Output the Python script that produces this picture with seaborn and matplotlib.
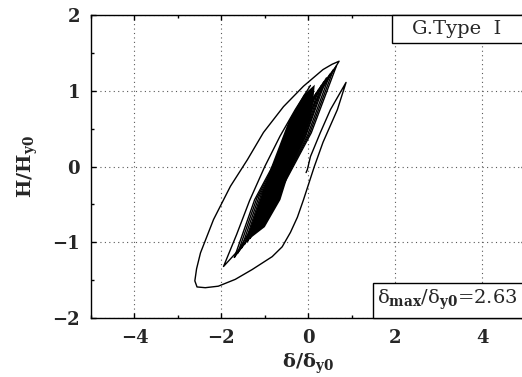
import numpy as np
import pandas as pd
import matplotlib
matplotlib.use("Agg")
import matplotlib.pyplot as plt
from matplotlib.patches import Rectangle
from matplotlib.ticker import MultipleLocator
import seaborn as sns

# ---- data ----
# large excursions: A -> B -> C -> D -> E -> end
outer_x = [0.05, -0.30, -0.65, -1.00, -1.35, -1.65, -1.95,
           -1.60, -1.10, -0.55, -0.05, 0.35, 0.71,
           0.55, 0.34, -0.11, -0.57, -1.03, -1.40, -1.79, -2.18, -2.48, -2.57, -2.61, -2.56,
           -2.37, -2.07, -1.68, -1.29, -0.83, -0.60, -0.41, -0.25, -0.11, 0.14, 0.34, 0.67, 0.87,
           0.51, 0.28, 0.05, -0.02, -0.05]
outer_y = [1.07, 0.75, 0.40, 0.00, -0.45, -0.90, -1.32,
           -1.10, -0.62, 0.02, 0.62, 1.05, 1.39,
           1.35, 1.28, 1.06, 0.79, 0.45, 0.09, -0.26, -0.70, -1.14, -1.35, -1.51, -1.59,
           -1.60, -1.58, -1.49, -1.36, -1.19, -1.06, -0.87, -0.67, -0.44, 0.00, 0.32, 0.75, 1.11,
           0.75, 0.45, 0.13, -0.04, -0.08]

# inner (dense) loops
loop1_x = [-1.05, -0.82, -0.44, 0.05, -0.24, -0.62, -1.05]
loop1_y = [-0.60, -0.18, 0.31, 0.80, 0.31, -0.18, -0.60]
loop2_x = [-1.15, -0.89, -0.445, 0.12, -0.205, -0.65, -1.15]
loop2_y = [-0.75, -0.255, 0.32, 0.90, 0.32, -0.255, -0.75]
loop3_x = [-1.22, -0.94, -0.45, 0.18, -0.17, -0.66, -1.22]
loop3_y = [-0.83, -0.29, 0.34, 0.97, 0.34, -0.29, -0.83]
loop4_x = [-1.28, -0.974, -0.442, 0.24, -0.142, -0.674, -1.28]
loop4_y = [-0.90, -0.324, 0.348, 1.02, 0.348, -0.324, -0.90]
loop5_x = [-1.34, -1.008, -0.434, 0.30, -0.114, -0.688, -1.34]
loop5_y = [-0.95, -0.344, 0.363, 1.07, 0.363, -0.344, -0.95]
loop6_x = [-1.40, -1.042, -0.426, 0.36, -0.086, -0.702, -1.40]
loop6_y = [-0.99, -0.357, 0.38, 1.12, 0.38, -0.357, -0.99]
loop7_x = [-1.47, -1.083, -0.42, 0.42, -0.06, -0.723, -1.47]
loop7_y = [-1.03, -0.37, 0.40, 1.17, 0.40, -0.37, -1.03]
loop8_x = [-1.54, -1.128, -0.414, 0.50, -0.014, -0.728, -1.54]
loop8_y = [-1.08, -0.39, 0.415, 1.22, 0.415, -0.39, -1.08]
loop9_x = [-1.62, -1.18, -0.41, 0.58, 0.03, -0.74, -1.62]
loop9_y = [-1.14, -0.414, 0.433, 1.28, 0.433, -0.414, -1.14]
loop10_x = [-1.70, -1.235, -0.41, 0.65, 0.07, -0.755, -1.70]
loop10_y = [-1.20, -0.44, 0.445, 1.33, 0.445, -0.44, -1.20]
small1_x = [-0.85, -0.725, -0.4975, -0.20, -0.3575, -0.585, -0.85]
small1_y = [-0.35, -0.095, 0.2025, 0.50, 0.2025, -0.095, -0.35]
small2_x = [-0.95, -0.77, -0.455, -0.05, -0.275, -0.59, -0.95]
small2_y = [-0.50, -0.155, 0.2475, 0.65, 0.2475, -0.155, -0.50]

# solid black core where the loops overlap
core_x = [-1.45, -1.15, -0.85, -0.45, -0.10, 0.15, 0.12, 0.05, -0.40, -0.64, -1.00, -1.45]
core_y = [-1.00, -0.50, 0.00, 0.60, 0.95, 1.08, 0.90, 0.62, 0.00, -0.44, -0.80, -1.00]

x_ticks = [-4, -2, 0, 2, 4]
y_ticks = [-2, -1, 0, 1, 2]
type_label = "G.Type  I"
ratio_label = r"$δ_{\mathbf{max}}/δ_{\mathbf{y0}}$=2.63"

# ---- build table ----
curves = [(outer_x, outer_y), (loop1_x, loop1_y), (loop2_x, loop2_y), (loop3_x, loop3_y),
          (loop4_x, loop4_y), (loop5_x, loop5_y), (loop6_x, loop6_y), (loop7_x, loop7_y),
          (loop8_x, loop8_y), (loop9_x, loop9_y), (loop10_x, loop10_y),
          (small1_x, small1_y), (small2_x, small2_y)]
frames = []
for i, (xs, ys) in enumerate(curves):
    frames.append(pd.DataFrame({"x": xs, "y": ys, "loop": i}))
df = pd.concat(frames, ignore_index=True)

sns.set_style("ticks")
plt.rcParams["font.family"] = ["DejaVu Serif"]
plt.rcParams["mathtext.fontset"] = "custom"
plt.rcParams["mathtext.rm"] = "DejaVu Serif"
plt.rcParams["mathtext.bf"] = "DejaVu Serif:bold"
plt.rcParams["mathtext.it"] = "DejaVu Serif:italic"
plt.rcParams["mathtext.default"] = "rm"

fig = plt.figure(figsize=(5.22, 3.77), dpi=100)
W, H = 522, 377
ax = fig.add_axes([91 / W, (H - 318) / H, 434.5 / W, 303 / H])

ax.fill(core_x, core_y, color="black", linewidth=0, zorder=2)
sns.lineplot(data=df, x="x", y="y", units="loop", estimator=None, sort=False,
             color="black", linewidth=1.0, ax=ax, legend=False, zorder=3)

ax.set_xlim(-5, 5)
ax.set_ylim(-2, 2)
ax.set_xticks(x_ticks)
ax.set_yticks(y_ticks)
ax.xaxis.set_minor_locator(MultipleLocator(1))
ax.yaxis.set_minor_locator(MultipleLocator(0.5))
ax.tick_params(which="both", direction="in", top=True, right=True, width=1.0, color="black")
ax.tick_params(which="major", length=3.5, labelsize=13, pad=8)
ax.tick_params(which="minor", length=2)
for lab in ax.get_xticklabels() + ax.get_yticklabels():
    lab.set_fontweight("bold")
ax.grid(True, which="major", linestyle=(0, (1, 3)), color="0.35", linewidth=0.8)
for s in ax.spines.values():
    s.set_linewidth(1.0)
    s.set_color("black")

ax.set_xlabel(r"$\mathbf{δ/δ_{y0}}$", fontsize=14)
ax.set_ylabel(r"$\mathbf{H/H_{y0}}$", fontsize=14)
ax.xaxis.set_label_coords(0.5, -0.112)
ax.yaxis.set_label_coords(-0.118, 0.5)

# annotation boxes
ax.add_patch(Rectangle((0.6927, 0.9076), 0.4, 0.0924, transform=ax.transAxes,
                       facecolor="white", edgecolor="black", linewidth=1.0, zorder=5, clip_on=False))
ax.text((457 - 91) / 434.5, (318 - 29) / 303, type_label, transform=ax.transAxes,
        ha="center", va="center", fontsize=14, zorder=6)
ax.add_patch(Rectangle((0.649, 0.0), 0.4, 0.1155, transform=ax.transAxes,
                       facecolor="white", edgecolor="black", linewidth=1.0, zorder=5, clip_on=False))
ax.text((377 - 91) / 434.5, (318 - 300) / 303, ratio_label, transform=ax.transAxes,
        ha="left", va="center", fontsize=14, zorder=6)

fig.savefig("out.png", dpi=100)
